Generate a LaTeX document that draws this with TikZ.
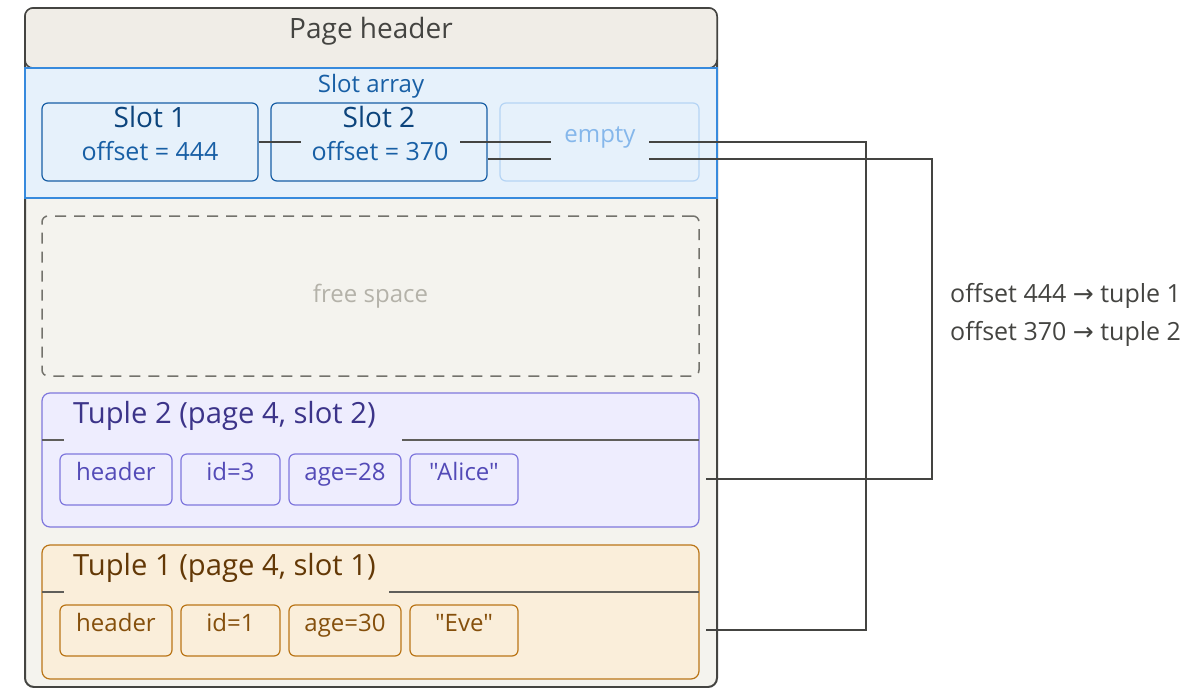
\documentclass[tikz,border=0pt]{standalone}
\usepackage{fontspec}
\setmainfont{Open Sans}[Ligatures=TeXOff]
\newfontfamily\arrowfont{DejaVu Sans}
\newcommand{\titlesize}{\fontsize{28}{34}\selectfont}
\newcommand{\tuplesize}{\fontsize{29.2}{35}\selectfont}
\newcommand{\labelsize}{\fontsize{24}{29}\selectfont}
\newcommand{\offsetsize}{\fontsize{25}{30}\selectfont}

\definecolor{pageline}{HTML}{444441}
\definecolor{pagefill}{HTML}{F4F3EE}
\definecolor{headfill}{HTML}{F0EDE7}
\definecolor{slotbg}{HTML}{E6F1FB}
\definecolor{slotline}{HTML}{378ADD}
\definecolor{slotdark}{HTML}{0C447C}
\definecolor{slotmid}{HTML}{185FA5}
\definecolor{emptyline}{HTML}{B5D4F4}
\definecolor{emptytext}{HTML}{85B7EB}
\definecolor{freeline}{HTML}{73726C}
\definecolor{freetext}{HTML}{B4B2A9}
\definecolor{purpfill}{HTML}{EEEDFE}
\definecolor{purpline}{HTML}{7F77DD}
\definecolor{purpdark}{HTML}{3C3489}
\definecolor{purpmid}{HTML}{534AB7}
\definecolor{ambfill}{HTML}{FAEEDA}
\definecolor{ambline}{HTML}{BA7517}
\definecolor{ambdark}{HTML}{633806}
\definecolor{ambmid}{HTML}{854F0B}
\definecolor{sepline}{HTML}{5F5E5A}

\begin{document}
\begin{tikzpicture}[x=1pt, y=-1pt,
  box/.style={rounded corners=6pt, inner sep=0pt},
  slotbox/.style={box, draw=slotmid, fill=slotbg, line width=1.2pt,
    minimum width=216pt, minimum height=78pt},
  field/.style={box, line width=1.2pt, inner ysep=0pt,
    text height=26pt, text depth=25pt, minimum height=51pt, font=\labelsize},
  tuplebox/.style={box, rounded corners=8pt, line width=1.2pt,
    minimum width=657pt, minimum height=134pt},
  link/.style={draw=pageline, line width=2pt},
  sep/.style={draw=sepline, line width=1.5pt}]

\useasboundingbox (0,0) rectangle (1184,688);

% page, header and slot array
\node[box, rounded corners=9pt, draw=pageline, fill=pagefill, line width=2pt,
  minimum width=692pt, minimum height=679pt] (page) at (371,347.5) {};
\node[box, rounded corners=8pt, draw=pageline, fill=headfill, line width=1.5pt,
  minimum width=692pt, minimum height=60pt] (header) at (371,38) {};
\node[anchor=base, text=pageline, font=\titlesize] (headerlbl) at (371,38) {Page header};
\node[draw=slotline, fill=slotbg, line width=1.5pt, inner sep=0pt,
  minimum width=692pt, minimum height=130pt] (slotarr) at (371,133) {};
\node[anchor=base, text=slotmid, font=\labelsize] (slotarrlbl) at (371,92) {Slot array};

\node[slotbox] (slot1) at (150,142) {};
\node[slotbox] (slot2) at (379,142) {};
\node[slotbox, draw=emptyline, minimum width=199pt] (slot3) at (599.5,142) {};

% tuples
\node[tuplebox, draw=purpline, fill=purpfill] (tuple2) at (370.5,460) {};
\node[tuplebox, draw=ambline, fill=ambfill] (tuple1) at (370.5,612) {};

\node[box, draw=freeline, line width=1.5pt, dash pattern=on 11pt off 8pt,
  minimum width=657pt, minimum height=160pt, text=freetext, font=\labelsize]
  (free) at (370.5,296) {free space};

\coordinate (t2in) at (706,479);
\coordinate (t1in) at (706,630);

% slot -> tuple links
\draw[link] (slot1.east) -| (866,630) -- (t1in);
\draw[link] ([yshift=-17pt]slot2.east) -| (932,479) -- (t2in);

\node[anchor=base, text=slotdark, font=\titlesize] (slot1top) at (150,127) {Slot 1};
\node[anchor=base, text=slotmid, font=\offsetsize] (slot1off) at (150,160) {offset = 444};
\node[anchor=base, text=slotdark, font=\titlesize] (slot2top) at (379,127) {Slot 2};
\node[anchor=base, fill=slotbg, inner xsep=11pt, inner ysep=5pt, text=slotmid,
  font=\offsetsize] (slot2off) at (380,160) {offset = 370};
\node[anchor=base, fill=slotbg, inner xsep=13pt, inner ysep=14pt, text=emptytext,
  font=\labelsize] (slot3lbl) at (600,142) {empty};

% tuple 2
\draw[sep] (42,440) -- (64,440);
\draw[sep] (402,440) -- (699,440);
\node[anchor=base west, text=purpdark, font=\tuplesize, inner sep=0pt] (t2title) at (73,423)
  {Tuple 2 (page 4, slot 2)};
\node[field, draw=purpline, fill=purpfill, text=purpmid, minimum width=112pt] (t2hdr) at (116,479.5) {header};
\node[field, draw=purpline, fill=purpfill, text=purpmid, minimum width=99pt] (t2id) at (230.5,479.5) {id=3};
\node[field, draw=purpline, fill=purpfill, text=purpmid, minimum width=112pt] (t2age) at (345,479.5) {age=28};
\node[field, draw=purpline, fill=purpfill, text=purpmid, minimum width=108pt] (t2name) at (464,479.5) {"Alice"};

% tuple 1
\draw[sep] (42,592) -- (64,592);
\draw[sep] (389,592) -- (699,592);
\node[anchor=base west, text=ambdark, font=\tuplesize, inner sep=0pt] (t1title) at (73,575)
  {Tuple 1 (page 4, slot 1)};
\node[field, draw=ambline, fill=ambfill, text=ambmid, minimum width=112pt] (t1hdr) at (116,630.5) {header};
\node[field, draw=ambline, fill=ambfill, text=ambmid, minimum width=99pt] (t1id) at (230.5,630.5) {id=1};
\node[field, draw=ambline, fill=ambfill, text=ambmid, minimum width=112pt] (t1age) at (345,630.5) {age=30};
\node[field, draw=ambline, fill=ambfill, text=ambmid, minimum width=108pt] (t1name) at (464,630.5) {"Eve"};

% legend
\node[anchor=base west, text=pageline, font=\offsetsize, inner sep=0pt] (map1) at (950,302)
  {offset 444 {\arrowfont →} tuple 1};
\node[anchor=base west, text=pageline, font=\offsetsize, inner sep=0pt] (map2) at (950,340)
  {offset 370 {\arrowfont →} tuple 2};

\end{tikzpicture}
\end{document}
